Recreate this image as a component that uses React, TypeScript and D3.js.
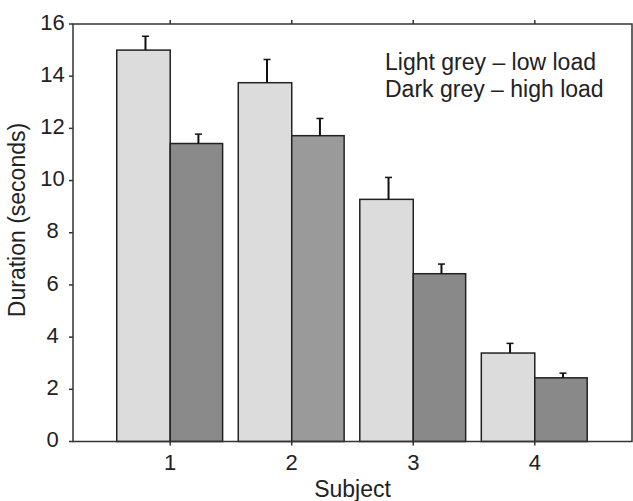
import React from 'react';
import * as d3 from 'd3';

const subjects = [1, 2, 3, 4];
const lowLoad = [15.0, 13.75, 9.28, 3.39];
const lowLoadErr = [0.53, 0.89, 0.84, 0.37];
const highLoad = [11.42, 11.72, 6.43, 2.44];
const highLoadErr = [0.36, 0.66, 0.37, 0.18];
const highLoadFill = ['#8a8a8a', '#9a9a9a', '#898989', '#898989'];
const yTicks = [0, 2, 4, 6, 8, 10, 12, 14, 16];
const legendLines = ['Light grey \u2013 low load', 'Dark grey \u2013 high load'];

const W = 633;
const H = 501;
const margin = { top: 24, right: 1, bottom: 59.5, left: 73 };
const font = '"Liberation Sans", Arial, sans-serif';

export default function App() {
  const x = d3.scaleLinear().domain([0.2, 4.8]).range([margin.left, W - margin.right]);
  const y = d3.scaleLinear().domain([0, 16]).range([H - margin.bottom, margin.top]);
  const bw = 0.44; // bar width in subject units
  const tick = 4;

  const bars: { x0: number; x1: number; v: number; e: number; fill: string }[] = [];
  subjects.forEach((s, i) => {
    bars.push({ x0: x(s - bw), x1: x(s), v: lowLoad[i], e: lowLoadErr[i], fill: '#dcdcdc' });
    bars.push({ x0: x(s), x1: x(s + bw * 0.98), v: highLoad[i], e: highLoadErr[i], fill: highLoadFill[i] });
  });

  const left = x.range()[0], right = x.range()[1];
  const top = y.range()[1], bottom = y.range()[0];

  return (
    <div style={{ position: 'absolute', left: 0, top: 0 }}>
      <svg width={W} height={H} style={{ display: 'block', fontFamily: font }}>
        <rect width={W} height={H} fill="#fff" />
        {bars.map((b, i) => {
          const cx = (b.x0 + b.x1) / 2 + 2;
          return (
            <g key={i}>
              <rect x={b.x0} y={y(b.v)} width={b.x1 - b.x0} height={y(0) - y(b.v)}
                fill={b.fill} stroke="#222" strokeWidth={1.5} />
              <line x1={cx} x2={cx} y1={y(b.v)} y2={y(b.v + b.e)} stroke="#111" strokeWidth={2} />
              <line x1={cx - 3.5} x2={cx + 3.5} y1={y(b.v + b.e)} y2={y(b.v + b.e)} stroke="#111" strokeWidth={1.5} />
            </g>
          );
        })}
        {/* frame */}
        <rect x={left} y={top} width={right - left} height={bottom - top} fill="none" stroke="#333" strokeWidth={1.5} />
        {yTicks.map(t => (
          <g key={'y' + t}>
            <line x1={left - tick} x2={left} y1={y(t)} y2={y(t)} stroke="#333" strokeWidth={1.5} />
            <text x={52.5} y={y(t) - 2} dy="0.35em" textAnchor="middle" fontSize={22} fill="#222">{t}</text>
          </g>
        ))}
        {subjects.map(s => (
          <g key={'x' + s}>
            <line x1={x(s)} x2={x(s)} y1={bottom} y2={bottom + tick} stroke="#333" strokeWidth={1.5} />
            <line x1={x(s)} x2={x(s)} y1={top - tick} y2={top} stroke="#333" strokeWidth={1.5} />
            <text x={x(s)} y={470} textAnchor="middle" fontSize={22} fill="#222">{s}</text>
          </g>
        ))}
        <text x={(left + right) / 2} y={497} textAnchor="middle" fontSize={23} fill="#222">Subject</text>
        <text transform="translate(25,220) rotate(-90)" textAnchor="middle" fontSize={23} fill="#222">
          Duration (seconds)
        </text>
        {legendLines.map((l, i) => (
          <text key={l} x={385} y={70 + i * 26.7} fontSize={23} fill="#222">{l}</text>
        ))}
      </svg>
    </div>
  );
}
